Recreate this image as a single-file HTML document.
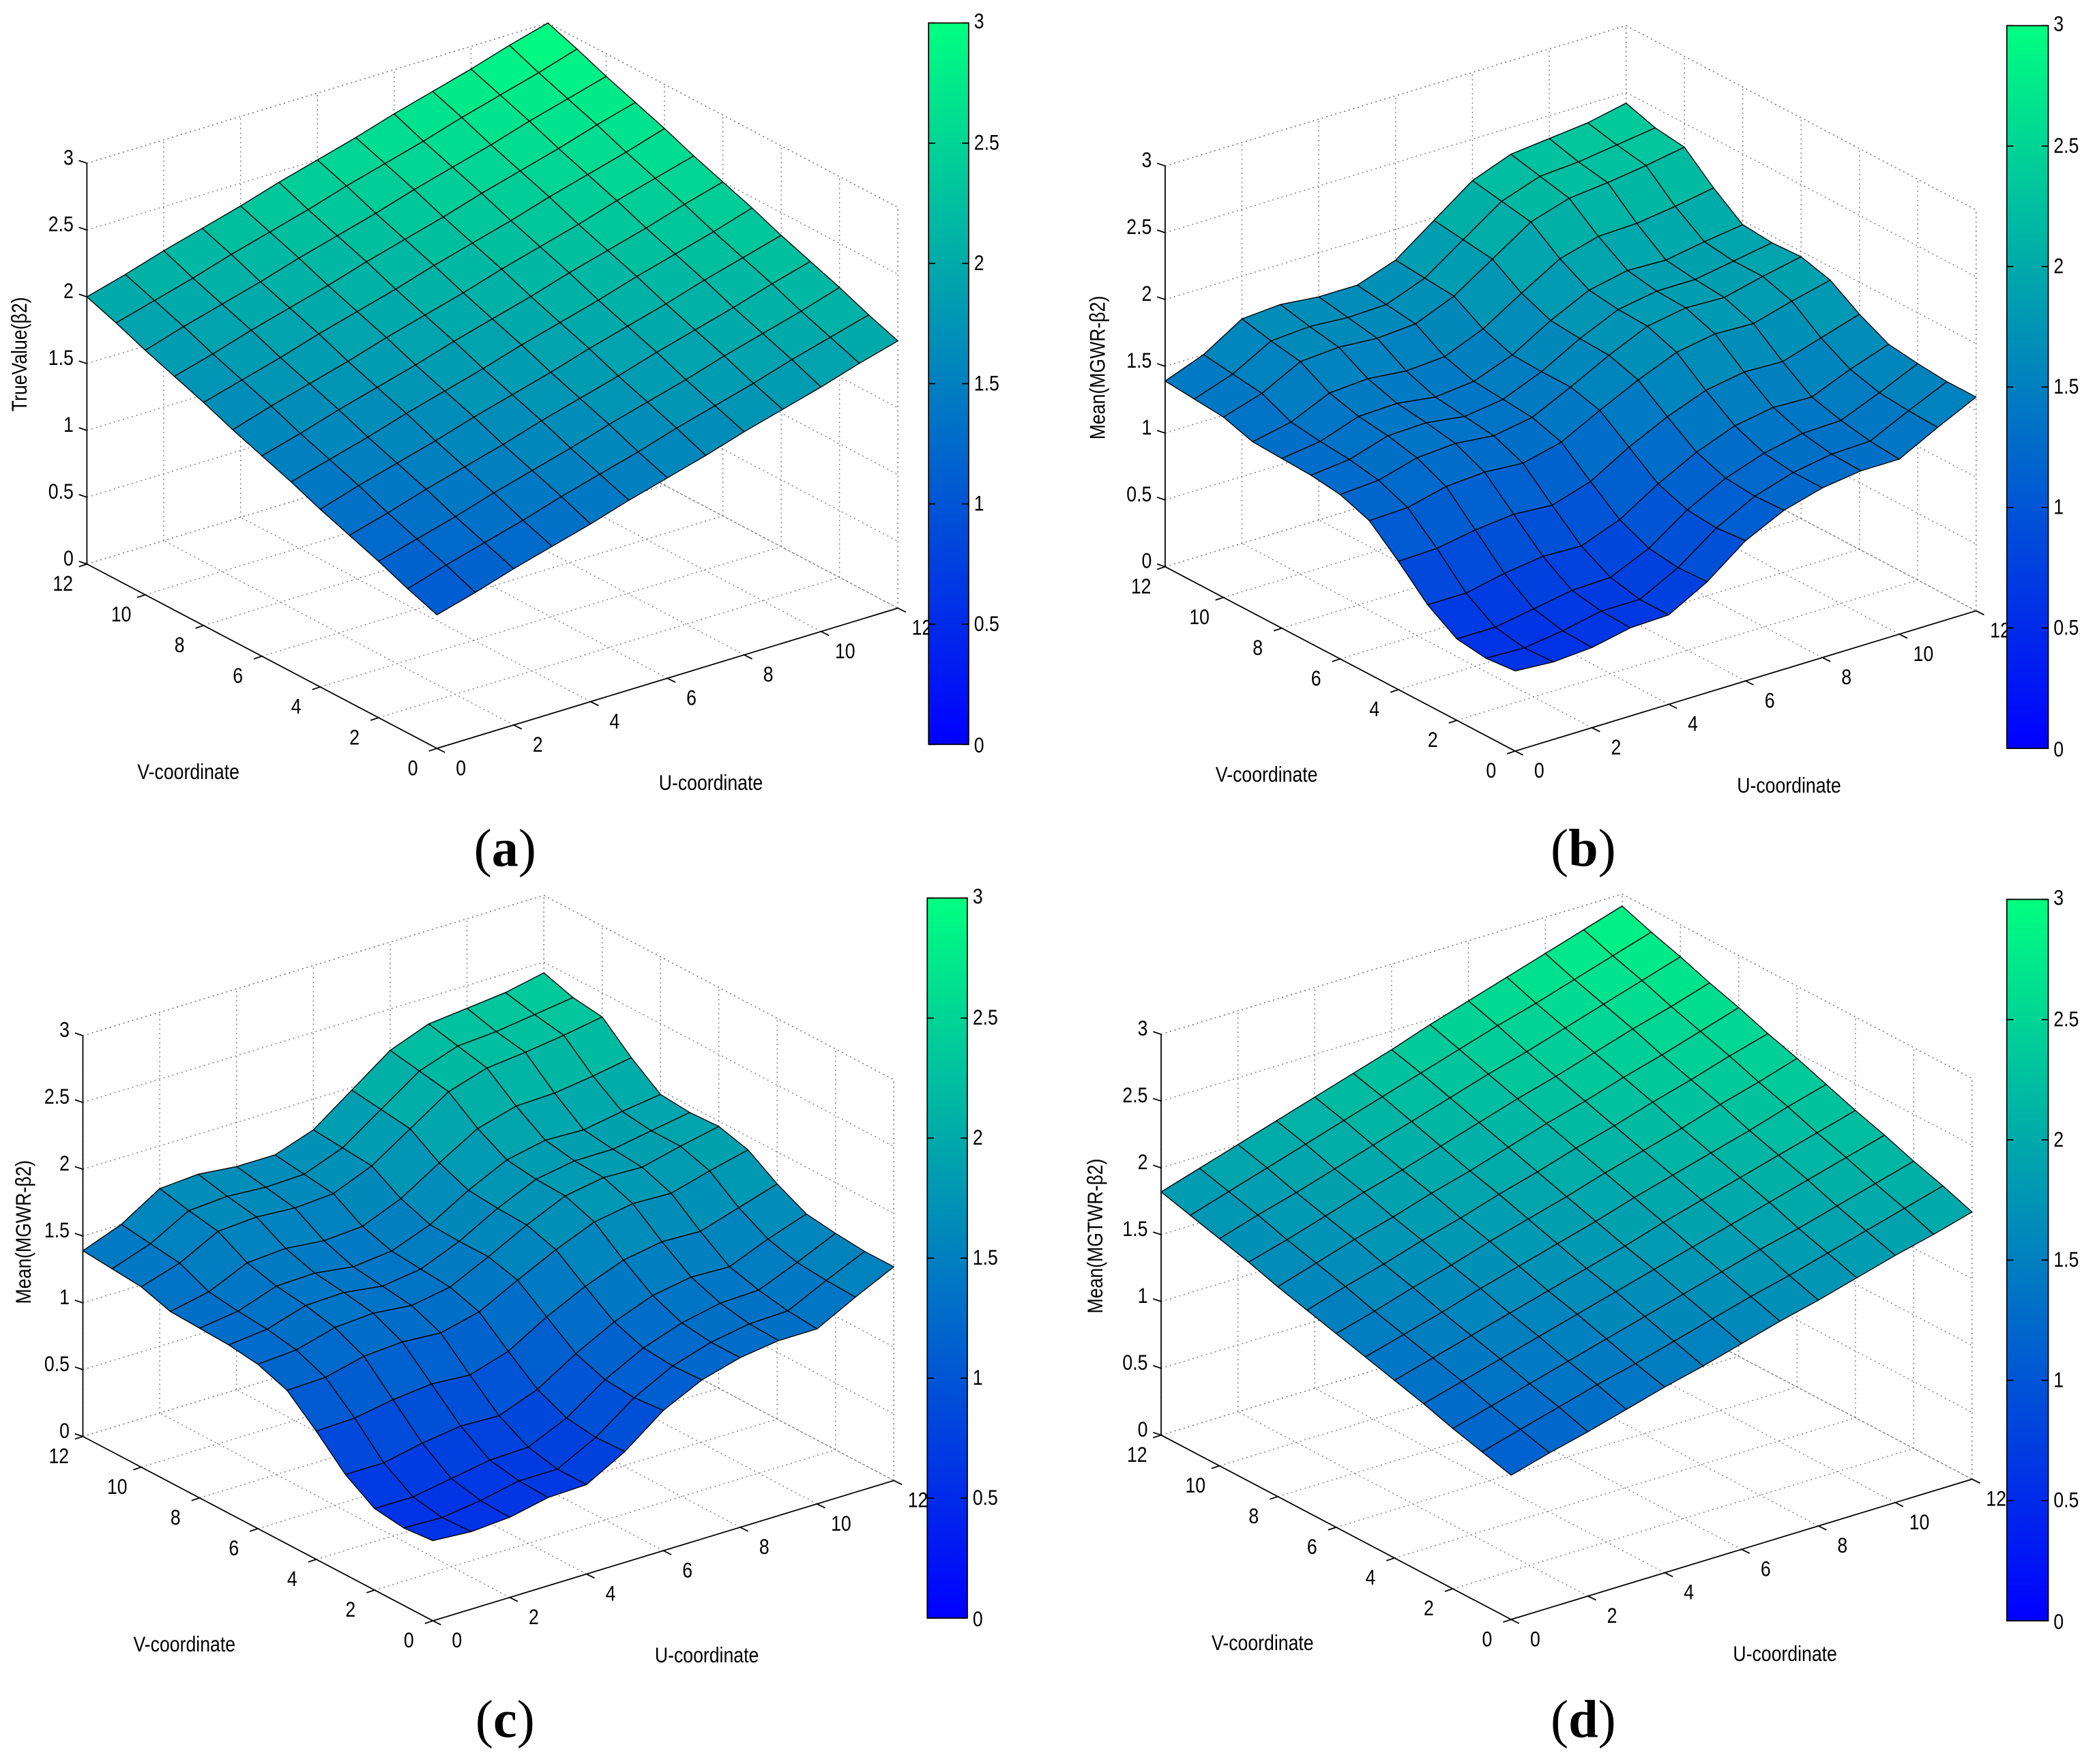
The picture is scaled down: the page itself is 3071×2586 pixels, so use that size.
<!DOCTYPE html>
<html><head><meta charset="utf-8"><style>
html,body{margin:0;padding:0;background:#fff}
svg{display:block}
text{font-family:"Liberation Sans",sans-serif;fill:#000}
text.serif{font-family:"Liberation Serif",serif}
</style></head><body>
<svg id="fig" xmlns="http://www.w3.org/2000/svg" width="3071" height="2586" viewBox="0 0 1568 1320">
<defs><linearGradient id="winter" x1="0" y1="1" x2="0" y2="0"><stop offset="0" stop-color="#0000ff"/><stop offset="1" stop-color="#00ff80"/></linearGradient></defs>
</svg>
<script>
const zTicks=[0,0.5,1,1.5,2,2.5,3];
const uvTicks=[0,2,4,6,8,10,12];
const cbTicks=[0,0.5,1,1.5,2,2.5,3];
const cbLabels=["0","0.5","1","1.5","2","2.5","3"];
const zA=[
[1.00,1.08,1.17,1.25,1.33,1.42,1.50,1.58,1.67,1.75,1.83,1.92,2.00],
[1.08,1.17,1.25,1.33,1.42,1.50,1.58,1.67,1.75,1.83,1.92,2.00,2.08],
[1.17,1.25,1.33,1.42,1.50,1.58,1.67,1.75,1.83,1.92,2.00,2.08,2.17],
[1.25,1.33,1.42,1.50,1.58,1.67,1.75,1.83,1.92,2.00,2.08,2.17,2.25],
[1.33,1.42,1.50,1.58,1.67,1.75,1.83,1.92,2.00,2.08,2.17,2.25,2.33],
[1.42,1.50,1.58,1.67,1.75,1.83,1.92,2.00,2.08,2.17,2.25,2.33,2.42],
[1.50,1.58,1.67,1.75,1.83,1.92,2.00,2.08,2.17,2.25,2.33,2.42,2.50],
[1.58,1.67,1.75,1.83,1.92,2.00,2.08,2.17,2.25,2.33,2.42,2.50,2.58],
[1.67,1.75,1.83,1.92,2.00,2.08,2.17,2.25,2.33,2.42,2.50,2.58,2.67],
[1.75,1.83,1.92,2.00,2.08,2.17,2.25,2.33,2.42,2.50,2.58,2.67,2.75],
[1.83,1.92,2.00,2.08,2.17,2.25,2.33,2.42,2.50,2.58,2.67,2.75,2.83],
[1.92,2.00,2.08,2.17,2.25,2.33,2.42,2.50,2.58,2.67,2.75,2.83,2.92],
[2.00,2.08,2.17,2.25,2.33,2.42,2.50,2.58,2.67,2.75,2.83,2.92,3.00]];
const zB=[
[0.60,0.58,0.60,0.66,0.67,0.83,1.05,1.19,1.27,1.31,1.31,1.46,1.60],
[0.58,0.57,0.61,0.67,0.67,0.82,1.03,1.18,1.27,1.32,1.33,1.47,1.60],
[0.61,0.61,0.66,0.71,0.72,0.85,1.05,1.20,1.30,1.36,1.37,1.49,1.62],
[0.75,0.75,0.81,0.85,0.84,0.95,1.13,1.28,1.39,1.44,1.43,1.55,1.65],
[0.96,0.97,1.02,1.05,1.03,1.12,1.29,1.43,1.54,1.59,1.58,1.67,1.76],
[1.15,1.16,1.23,1.25,1.23,1.30,1.45,1.59,1.71,1.76,1.75,1.83,1.90],
[1.23,1.25,1.33,1.35,1.32,1.37,1.51,1.66,1.79,1.84,1.83,1.90,1.96],
[1.26,1.29,1.38,1.39,1.35,1.39,1.51,1.67,1.80,1.85,1.85,1.90,1.95],
[1.27,1.31,1.41,1.42,1.38,1.41,1.52,1.69,1.83,1.89,1.88,1.93,1.97],
[1.28,1.34,1.47,1.49,1.46,1.48,1.60,1.78,1.95,2.03,2.04,2.08,2.13],
[1.35,1.44,1.59,1.61,1.59,1.61,1.73,1.92,2.11,2.20,2.23,2.27,2.32],
[1.37,1.47,1.63,1.65,1.63,1.64,1.75,1.95,2.15,2.25,2.27,2.31,2.35],
[1.39,1.50,1.68,1.70,1.67,1.67,1.77,1.98,2.19,2.30,2.33,2.36,2.42]];
const zC=[
[0.60,0.58,0.60,0.66,0.67,0.83,1.05,1.19,1.27,1.31,1.31,1.46,1.60],
[0.58,0.57,0.61,0.67,0.67,0.82,1.03,1.18,1.27,1.32,1.33,1.47,1.60],
[0.61,0.61,0.66,0.71,0.72,0.85,1.05,1.20,1.30,1.36,1.37,1.49,1.62],
[0.75,0.75,0.81,0.85,0.84,0.95,1.13,1.28,1.39,1.44,1.43,1.55,1.65],
[0.96,0.97,1.02,1.05,1.03,1.12,1.29,1.43,1.54,1.59,1.58,1.67,1.76],
[1.15,1.16,1.23,1.25,1.23,1.30,1.45,1.59,1.71,1.76,1.75,1.83,1.90],
[1.23,1.25,1.33,1.35,1.32,1.37,1.51,1.66,1.79,1.84,1.83,1.90,1.96],
[1.26,1.29,1.38,1.39,1.35,1.39,1.51,1.67,1.80,1.85,1.85,1.90,1.95],
[1.27,1.31,1.41,1.42,1.38,1.41,1.52,1.69,1.83,1.89,1.88,1.93,1.97],
[1.28,1.34,1.47,1.49,1.46,1.48,1.60,1.78,1.95,2.03,2.04,2.08,2.13],
[1.35,1.44,1.59,1.61,1.59,1.61,1.73,1.92,2.11,2.20,2.23,2.27,2.32],
[1.37,1.47,1.63,1.65,1.63,1.64,1.75,1.95,2.15,2.25,2.27,2.31,2.35],
[1.39,1.50,1.68,1.70,1.67,1.67,1.77,1.98,2.19,2.30,2.33,2.36,2.42]];
const zD=[
[1.08,1.16,1.23,1.31,1.39,1.46,1.54,1.62,1.69,1.77,1.85,1.92,2.00],
[1.14,1.22,1.30,1.38,1.45,1.53,1.61,1.69,1.76,1.84,1.92,2.00,2.08],
[1.20,1.28,1.36,1.44,1.52,1.60,1.68,1.76,1.84,1.91,1.99,2.07,2.15],
[1.27,1.35,1.43,1.51,1.59,1.67,1.75,1.83,1.91,1.99,2.07,2.15,2.23],
[1.33,1.41,1.49,1.57,1.65,1.73,1.81,1.90,1.98,2.06,2.14,2.22,2.30],
[1.39,1.47,1.55,1.64,1.72,1.80,1.88,1.97,2.05,2.13,2.21,2.30,2.38],
[1.45,1.53,1.62,1.70,1.79,1.87,1.95,2.04,2.12,2.20,2.29,2.37,2.46],
[1.51,1.60,1.68,1.77,1.85,1.94,2.02,2.11,2.19,2.28,2.36,2.45,2.53],
[1.57,1.66,1.75,1.83,1.92,2.00,2.09,2.18,2.26,2.35,2.43,2.52,2.61],
[1.64,1.72,1.81,1.90,1.98,2.07,2.16,2.25,2.33,2.42,2.51,2.59,2.68],
[1.70,1.79,1.87,1.96,2.05,2.14,2.23,2.32,2.40,2.49,2.58,2.67,2.76],
[1.76,1.85,1.94,2.03,2.12,2.21,2.30,2.39,2.48,2.56,2.65,2.74,2.83],
[1.82,1.91,2.00,2.09,2.18,2.27,2.36,2.46,2.55,2.64,2.73,2.82,2.91]];

const NS="http://www.w3.org/2000/svg";
const svg=document.getElementById('fig');
function mk(tag,attrs,parent){const e=document.createElementNS(NS,tag);for(const k in attrs)e.setAttribute(k,attrs[k]);(parent||svg).appendChild(e);return e;}
function winter(z){const t=Math.max(0,Math.min(1,z/3));return `rgb(0,${Math.round(255*t)},${Math.round(255*(1-0.5*t))})`;}
function txt(parent,x,y,s,size,anchor,extra){const t=mk('text',{x:0,y:0,'font-size':size,'text-anchor':anchor||'start',transform:`translate(${x} ${y}) ${extra||''} scale(0.85 1)`},parent);t.textContent=s;return t;}

const panels=[
 {id:'a',dx:0,dy:0,z:zA,title:'TrueValue(β2)',tx:15,ty:265,cb:[695,17,30,540],lab:'(a)',lx:378,ly:648},
 {id:'b',dx:807,dy:2,z:zB,title:'Mean(MGWR-β2)',tx:822,ty:275,cb:[1502,19,31,541],lab:'(b)',lx:1185,ly:648},
 {id:'c',dx:-3,dy:653,z:zC,title:'Mean(MGWR-β2)',tx:18,ty:922,cb:[694,672,30,539],lab:'(c)',lx:378,ly:1300},
 {id:'d',dx:804,dy:652,z:zD,title:'Mean(MGTWR-β2)',tx:820,ty:925,cb:[1502,673,31,540],lab:'(d)',lx:1185,ly:1300}
];

panels.forEach(P=>{
 const g=mk('g',{});
 
 
 const ox=327+P.dx, oy=560+P.dy;
 const pr=(u,v,z)=>[ox+28.75*u-21.83*v, oy-8.75*u-11.5*v-100*z];
 const line=(a,b,dotted,name,w)=>{const l=mk('line',{x1:a[0],y1:a[1],x2:b[0],y2:b[1],stroke:dotted?'#777':'#000','stroke-width':w||(dotted?0.7:0.9)},g);if(dotted)l.setAttribute('stroke-dasharray','1 2.5');return l;};
 uvTicks.forEach(t=>{
  line(pr(t,0,0),pr(t,12,0),true,'floor-grid-u');
  line(pr(t,12,0),pr(t,12,3),true,'wall-grid-u');
  line(pr(0,t,0),pr(12,t,0),true,'floor-grid-v');
  line(pr(12,t,0),pr(12,t,3),true,'wall-grid-v');
 });
 zTicks.forEach(t=>{
  line(pr(0,12,t),pr(12,12,t),true,'wall-grid-z');
  line(pr(12,12,t),pr(12,0,t),true,'wall-grid-z');
 });
 line(pr(12,0,0),pr(12,0,3),true,'box-edge');
 line(pr(0,12,3),pr(12,12,3),true,'box-edge');
 line(pr(12,12,3),pr(12,0,3),true,'box-edge');
 line(pr(0,12,0),pr(0,12,3),false,'z-axis');
 line(pr(0,0,0),pr(0,12,0),false,'v-axis');
 line(pr(0,0,0),pr(12,0,0),false,'u-axis');
 zTicks.forEach(t=>{const p=pr(0,12,t);line([p[0]-6,p[1]-2],p,false,'z-tick');
  const tx=txt(g,p[0]-10,p[1]+1,String(t),16,'end');
  });
 uvTicks.forEach(t=>{
  const p=pr(0,t,0);line(p,[p[0]-6,p[1]+2],false,'v-tick');
  const tv=txt(g,p[0]-18,p[1]+20,String(t),16,'middle');
  
  const q=pr(t,0,0);line(q,[q[0]+6,q[1]+3],false,'u-tick');
  const tu=txt(g,q[0]+18,q[1]+20,String(t),16,'middle');
  
 });
 const vt=txt(g,ox-186,oy+23,'V-coordinate',16,'middle');
 
 const ut=txt(g,ox+205,oy+31,'U-coordinate',16,'middle');
 
 const zt=txt(g,P.tx+5,P.ty,P.title,16,'middle','rotate(-90)');
 
 const quads=[];
 for(let v=0;v<12;v++)for(let u=0;u<12;u++)quads.push([u,v]);
 quads.sort((a,b)=>(b[0]+b[1])-(a[0]+a[1]));
 const sg=mk('g',{},g);
 
 
 quads.forEach(([u,v])=>{
  const Z=P.z;
  const pts=[pr(u,v,Z[v][u]),pr(u+1,v,Z[v][u+1]),pr(u+1,v+1,Z[v+1][u+1]),pr(u,v+1,Z[v+1][u])];
  const avg=(Z[v][u]+Z[v][u+1]+Z[v+1][u+1]+Z[v+1][u])/4;
  const pg=mk('polygon',{points:pts.map(p=>p[0].toFixed(2)+','+p[1].toFixed(2)).join(' '),fill:winter(avg),stroke:'#000','stroke-width':0.7,'stroke-linejoin':'round'},sg);
  
  
 });
 const [cx,cy,cw,ch]=P.cb;
 const cbr=mk('rect',{x:cx,y:cy,width:cw,height:ch,fill:'url(#winter)',stroke:'#000','stroke-width':0.9},g);
 
 
 cbTicks.forEach((t,i)=>{const y=cy+ch*(1-t/3);
  line([cx,y],[cx+5,y],false,'colorbar-tick');line([cx+cw-5,y],[cx+cw,y],false,'colorbar-tick');
  const ct=txt(g,cx+cw+4,y+(i==6?4:(i==0?6:5)),cbLabels[i],16,'start');
  });
 const pl=mk('text',{x:P.lx,y:P.ly,'font-size':40,'text-anchor':'middle','class':'serif'},g);
 pl.innerHTML='(<tspan font-weight="bold">'+P.id+'</tspan>)';
 
 
});
</script>
</body></html>
